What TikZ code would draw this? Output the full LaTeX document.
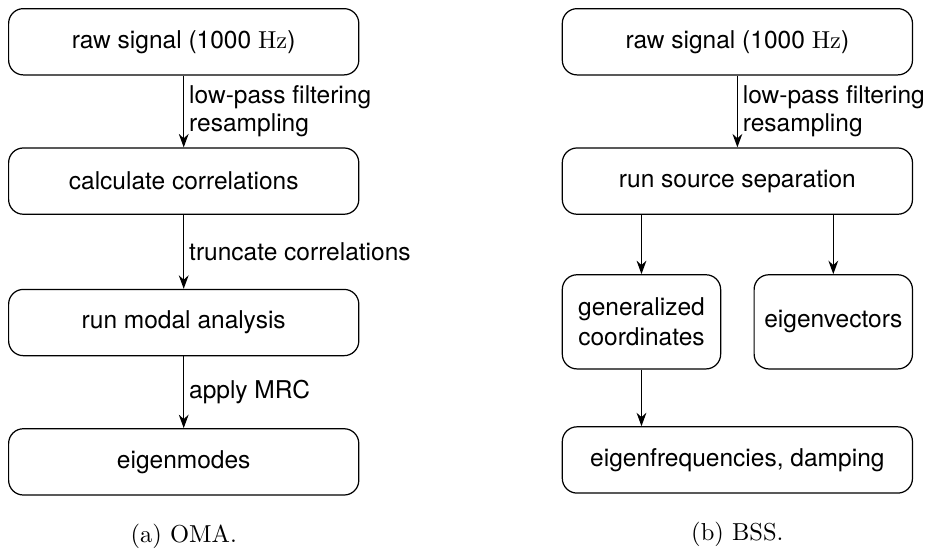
\documentclass[tikz,border=0pt]{standalone}
\usepackage{fontspec}
\setsansfont{TeX Gyre Heros}
\usetikzlibrary{arrows.meta,positioning,calc}

\begin{document}
\begin{tikzpicture}[
    line width=0.5pt,
    block/.style={rectangle, draw, rounded corners=6pt, minimum height=0.95cm, minimum width=5.02cm, font=\sffamily, text centered},
    smallblock/.style={rectangle, draw, rounded corners=6pt, minimum height=1.35cm, minimum width=2.27cm, font=\sffamily, align=center},
    arrow/.style={-{Stealth[length=5.5pt, width=4pt, inset=1.8pt]}},
    steplabel/.style={right, align=left, font=\sffamily, inner sep=2pt},
    caption/.style={font=\rmfamily}
]
% (a) OMA
\node[block] (oraw) {raw signal (1000~$\mathrm{Hz}$)};
\node[block, below=1.03cm of oraw] (ocorr) {calculate correlations};
\node[block, below=1.06cm of ocorr] (omodal) {run modal analysis};
\node[block, below=1.03cm of omodal] (omodes) {eigenmodes};
\node[caption, below=0.28cm of omodes] (ocap) {(a) OMA.};

% (b) BSS
\node[block, right=2.9cm of oraw] (braw) {raw signal (1000~$\mathrm{Hz}$)};
\node[block, below=1.03cm of braw] (bsep) {run source separation};
\node[smallblock, below right=0.85cm and 0cm of bsep.south west] (bgen) {generalized\\coordinates};
\node[smallblock, below left=0.85cm and 0cm of bsep.south east] (bvec) {eigenvectors};
\node[block, below=3.03cm of bsep] (bfreq) {eigenfrequencies, damping};
\node[caption, below=0.28cm of bfreq] (bcap) {(b) BSS.};

% Arrows
\draw[arrow] (oraw) -- node[steplabel] {low-pass filtering\\[-0.5pt]resampling} (ocorr);
\draw[arrow] (ocorr) -- node[steplabel] {truncate correlations} (omodal);
\draw[arrow] (omodal) -- node[steplabel] {apply MRC} (omodes);
\draw[arrow] (braw) -- node[steplabel] {low-pass filtering\\[-0.5pt]resampling} (bsep);
\draw[arrow] (bsep.south -| bgen) -- (bgen);
\draw[arrow] (bsep.south -| bvec) -- (bvec);
\draw[arrow] (bgen) -- (bgen |- bfreq.north);

\useasboundingbox ($(oraw.north west)+(-0.115,0.115)$) rectangle ++(13.39,-7.69);
\end{tikzpicture}
\end{document}
